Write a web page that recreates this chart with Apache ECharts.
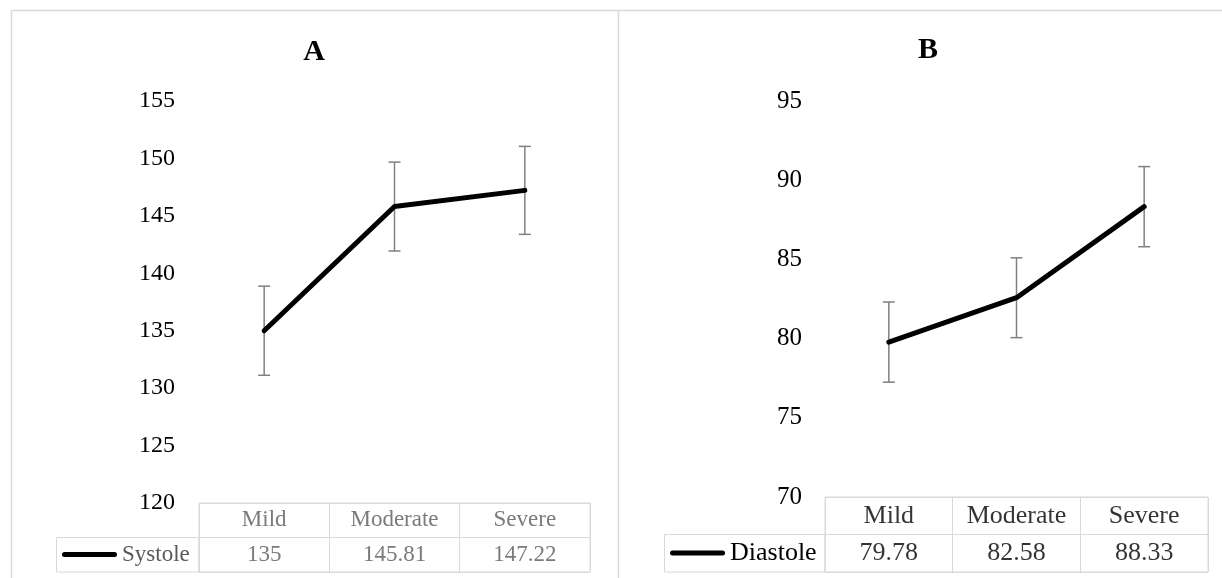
<!DOCTYPE html>
<html>
<head>
<meta charset="utf-8">
<script src="https://cdn.jsdelivr.net/npm/echarts@6/dist/echarts.min.js"></script>
<style>
  html, body { margin: 0; padding: 0; background: #fff; }
  #chart { width: 1222px; height: 578px; }
</style>
</head>
<body>
<div id="chart"></div>
<script>
// ---- data ----
const categories = ['Mild', 'Moderate', 'Severe'];
const systole = [135, 145.81, 147.22];
const systoleErr = [3.88, 3.87, 3.83];
const diastole = [79.78, 82.58, 88.33];
const diastoleErr = [2.53, 2.52, 2.53];
const yTicksA = [120, 125, 130, 135, 140, 145, 150, 155];
const yTicksB = [70, 75, 80, 85, 90, 95];
const seriesNameA = 'Systole';
const seriesNameB = 'Diastole';

const FONT = '"Liberation Serif", "Times New Roman", serif';
const GRID_COLOR = '#d9d9d9';

const chart = echarts.init(document.getElementById('chart'), null, { renderer: 'canvas' });

function errData(vals, errs) {
  return vals.map((v, i) => [i, v - errs[i], v + errs[i]]);
}
function renderErr(params, api) {
  const x = api.value(0);
  const lo = api.coord([x, api.value(1)]);
  const hi = api.coord([x, api.value(2)]);
  const w = 6;
  const style = { stroke: '#808080', lineWidth: 1.5, fill: null };
  return {
    type: 'group',
    children: [
      { type: 'line', shape: { x1: hi[0], y1: hi[1], x2: lo[0], y2: lo[1] }, style },
      { type: 'line', shape: { x1: hi[0] - w, y1: hi[1], x2: hi[0] + w, y2: hi[1] }, style },
      { type: 'line', shape: { x1: lo[0] - w, y1: lo[1], x2: lo[0] + w, y2: lo[1] }, style }
    ]
  };
}
function tableLabels(items, row, xIdx, yIdx, fontSize, color) {
  return {
    type: 'scatter',
    xAxisIndex: xIdx,
    yAxisIndex: yIdx,
    symbolSize: 1,
    itemStyle: { color: 'transparent' },
    silent: true,
    data: items.map((t, i) => ({ value: [i, row], name: String(t) })),
    label: {
      show: true,
      position: 'inside',
      formatter: p => p.name,
      fontFamily: FONT,
      fontSize: fontSize,
      color: color
    }
  };
}
const capsule = 'path://M2.5,0 L52.5,0 A2.5,2.5 0 0 1 52.5,5 L2.5,5 A2.5,2.5 0 0 1 2.5,0 Z';

const option = {
  animation: false,
  backgroundColor: '#fff',
  grid: [
    { left: 199, width: 391, top: 101, height: 402 },
    { left: 199, width: 391, top: 503, height: 69, show: true, borderColor: GRID_COLOR, borderWidth: 1 },
    { left: 825, width: 383, top: 101, height: 396 },
    { left: 825, width: 383, top: 497, height: 75, show: true, borderColor: GRID_COLOR, borderWidth: 1 }
  ],
  xAxis: [
    { type: 'category', gridIndex: 0, data: categories, boundaryGap: true, show: false },
    { type: 'category', gridIndex: 1, data: categories, boundaryGap: true,
      axisLine: { show: false }, axisTick: { show: false }, axisLabel: { show: false },
      splitLine: { show: true, interval: 0, lineStyle: { color: GRID_COLOR, width: 1 } } },
    { type: 'category', gridIndex: 2, data: categories, boundaryGap: true, show: false },
    { type: 'category', gridIndex: 3, data: categories, boundaryGap: true,
      axisLine: { show: false }, axisTick: { show: false }, axisLabel: { show: false },
      splitLine: { show: true, interval: 0, lineStyle: { color: GRID_COLOR, width: 1 } } }
  ],
  yAxis: [
    { type: 'value', gridIndex: 0, min: yTicksA[0], max: yTicksA[yTicksA.length - 1], interval: yTicksA[1] - yTicksA[0],
      axisLine: { show: false }, axisTick: { show: false }, splitLine: { show: false },
      axisLabel: { fontFamily: FONT, fontSize: 24, color: '#000', margin: 24 } },
    { type: 'value', gridIndex: 1, min: 0, max: 2, interval: 1,
      axisLine: { show: false }, axisTick: { show: false }, axisLabel: { show: false },
      splitLine: { show: true, lineStyle: { color: GRID_COLOR, width: 1 } } },
    { type: 'value', gridIndex: 2, min: yTicksB[0], max: yTicksB[yTicksB.length - 1], interval: yTicksB[1] - yTicksB[0],
      axisLine: { show: false }, axisTick: { show: false }, splitLine: { show: false },
      axisLabel: { fontFamily: FONT, fontSize: 25, color: '#000', margin: 23 } },
    { type: 'value', gridIndex: 3, min: 0, max: 2, interval: 1,
      axisLine: { show: false }, axisTick: { show: false }, axisLabel: { show: false },
      splitLine: { show: true, lineStyle: { color: GRID_COLOR, width: 1 } } }
  ],
  legend: [
    { data: [seriesNameA], left: 62, top: 543, padding: 0, itemWidth: 55, itemHeight: 6, icon: capsule,
      textStyle: { fontFamily: FONT, fontSize: 23, color: '#595959' }, selectedMode: false },
    { data: [seriesNameB], left: 670, top: 540, padding: 0, itemWidth: 55, itemHeight: 6, icon: capsule,
      textStyle: { fontFamily: FONT, fontSize: 26, color: '#000' }, selectedMode: false }
  ],
  graphic: [
    { type: 'line', shape: { x1: 11, y1: 10.5, x2: 1222, y2: 10.5 }, style: { stroke: GRID_COLOR, lineWidth: 1.5 }, silent: true },
    { type: 'line', shape: { x1: 11.5, y1: 10, x2: 11.5, y2: 578 }, style: { stroke: GRID_COLOR, lineWidth: 1.5 }, silent: true },
    { type: 'line', shape: { x1: 618.5, y1: 10, x2: 618.5, y2: 578 }, style: { stroke: GRID_COLOR, lineWidth: 1.5 }, silent: true },
    { type: 'rect', shape: { x: 56.5, y: 537.5, width: 142.5, height: 34.5 }, style: { stroke: GRID_COLOR, fill: null, lineWidth: 1 }, silent: true },
    { type: 'rect', shape: { x: 664.5, y: 534.5, width: 160.5, height: 37.5 }, style: { stroke: GRID_COLOR, fill: null, lineWidth: 1 }, silent: true },
    { type: 'text', x: 314, y: 52, style: { text: 'A', font: 'bold 30px ' + FONT, fill: '#000', align: 'center', verticalAlign: 'middle' }, silent: true },
    { type: 'text', x: 928, y: 50, style: { text: 'B', font: 'bold 30px ' + FONT, fill: '#000', align: 'center', verticalAlign: 'middle' }, silent: true }
  ],
  series: [
    { type: 'custom', name: 'errA', xAxisIndex: 0, yAxisIndex: 0, renderItem: renderErr,
      data: errData(systole, systoleErr), encode: { x: 0, y: [1, 2] }, z: 1, silent: true },
    { type: 'line', name: seriesNameA, xAxisIndex: 0, yAxisIndex: 0, data: systole, color: '#000',
      showSymbol: false, symbol: 'none', z: 3,
      lineStyle: { color: '#000', width: 5, cap: 'round', join: 'round' } },
    tableLabels(categories, 1.5, 1, 1, 23, '#595959'),
    tableLabels(systole, 0.5, 1, 1, 23, '#595959'),
    { type: 'custom', name: 'errB', xAxisIndex: 2, yAxisIndex: 2, renderItem: renderErr,
      data: errData(diastole, diastoleErr), encode: { x: 0, y: [1, 2] }, z: 1, silent: true },
    { type: 'line', name: seriesNameB, xAxisIndex: 2, yAxisIndex: 2, data: diastole, color: '#000',
      showSymbol: false, symbol: 'none', z: 3,
      lineStyle: { color: '#000', width: 5, cap: 'round', join: 'round' } },
    tableLabels(categories, 1.5, 3, 3, 26, '#000'),
    tableLabels(diastole, 0.5, 3, 3, 26, '#000')
  ]
};
chart.setOption(option);
</script>
</body>
</html>
